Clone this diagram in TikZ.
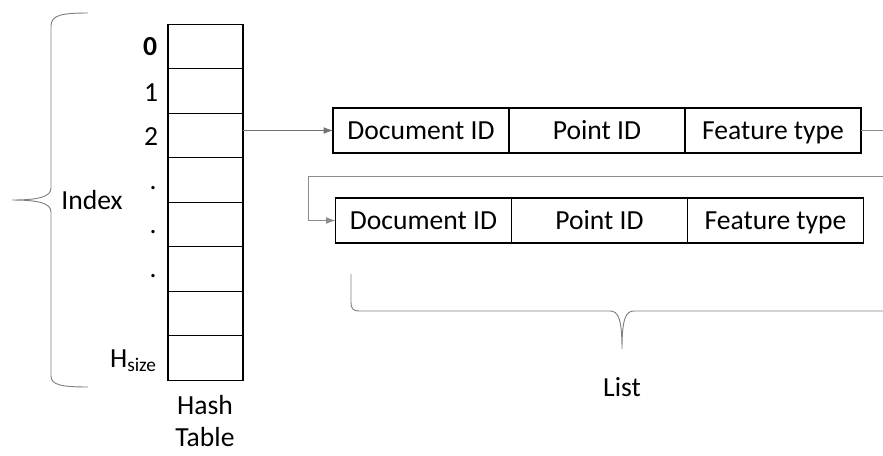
\documentclass[tikz,border=0pt]{standalone}
\usepackage{fontspec}
\setmainfont{Carlito}
\usetikzlibrary{positioning,arrows.meta}
\definecolor{linkgray}{gray}{0.55}
\definecolor{bracegray}{gray}{0.5}

\begin{document}
\begin{tikzpicture}[x=0.75pt,y=-0.75pt,
  every node/.style={font=\fontsize{20.7}{24.75}\selectfont},
  cell/.style={draw,line width=1.1pt,minimum width=56.25pt,minimum height=33.375pt,inner sep=0pt,outer sep=0pt},
  field/.style={draw,line width=1.1pt,minimum width=132pt,minimum height=33.75pt,inner sep=0pt,outer sep=0pt,
    text height=13.3pt,text depth=0pt},
  link/.style={draw=linkgray,line width=0.6pt,-{Latex[length=7pt,width=5pt]}},
  brace/.style={draw=bracegray,line width=0.7pt}]
\useasboundingbox (0,0) rectangle (883,455);
\clip (0,0) rectangle (883,455);
% hash table
\foreach \i in {0,...,7}
  \node[cell] (c\i) at (205.5,{46.5+44.5*\i}) {};
\node (n0) at (150,47) {\textbf{0}};
\node (n1) at (151,93) {1};
\node (n2) at (151,137) {2};
\foreach \y [count=\k] in {188,232,276}
  \node (dot\k) at (153,\y) {.};
\node[anchor=base east,inner sep=0pt] (hsize) at (157,367) {H\textsubscript{size}};
\node[align=center,inner sep=0pt,font=\fontsize{20.7}{23.5}\selectfont] (htab) at (205,421) {Hash\\Table};
\node (idx) at (92,200) {Index};
% records
\node[field] (d1) at (421,130.5) {Document ID};
\node[field,right=0pt of d1] (p1) {Point ID};
\node[field,right=0pt of p1] (f1) {Feature type};
\node[field] (d2) at (423.5,220.5) {Document ID};
\node[field,right=0pt of d2] (p2) {Point ID};
\node[field,right=0pt of p2] (f2) {Feature type};
\node (lst) at (622,387) {List};
% links
\coordinate (out1) at (895,130.5);
\coordinate (out2) at (895,176);
\coordinate (bend) at (308,176);
\draw[link,draw=gray!90!black] (c2.east |- d1.west) -- (d1.west);
\draw[link] (f1.east) -- (out1) -- (out2) -- (bend) |- (d2.west);
% braces
\draw[brace] (88,13) .. controls (62,13) and (51,15) .. (51,26) -- (51,188)
  .. controls (51,197) and (38,200) .. (12,200)
  .. controls (38,200) and (51,203) .. (51,212) -- (51,376)
  .. controls (51,385) and (62,387) .. (88,387);
\draw[brace] (351,274) -- (351,302) .. controls (351,309) and (353,311) .. (360,311)
  -- (610,311) .. controls (618,311) and (622,318) .. (622,349)
  .. controls (622,318) and (626,311) .. (634,311) -- (895,311);
\end{tikzpicture}
\end{document}
